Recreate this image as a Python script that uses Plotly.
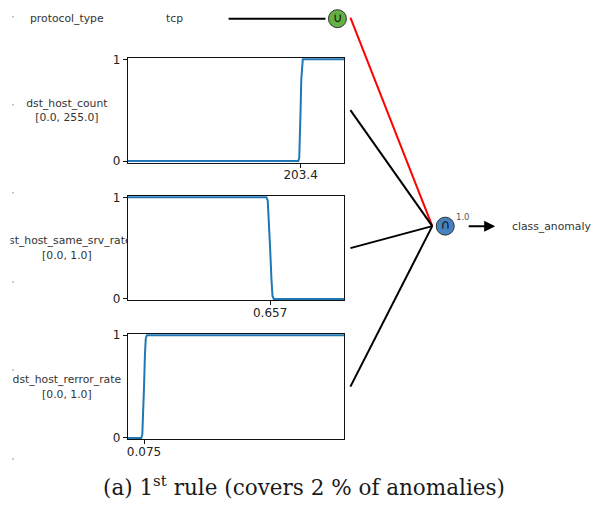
import plotly.graph_objects as go

W, H = 591, 510

# ---------------- data ----------------
cat_feature = "protocol_type"
cat_value = "tcp"
features = ["dst_host_count", "dst_host_same_srv_rate", "dst_host_rerror_rate"]
feature_ranges = [[0.0, 255.0], [0.0, 1.0], [0.0, 1.0]]
thresholds = [203.4, 0.657, 0.075]
threshold_labels = ["203.4", "0.657", "0.075"]

curve1_x = [0.0, 200.8, 201.8, 202.6, 203.4, 204.2, 205.0, 206.0, 255.0]
curve1_y = [0.0, 0.0, 0.03, 0.2, 0.5, 0.8, 0.97, 1.0, 1.0]
curve2_x = [0.0, 0.640, 0.646, 0.651, 0.657, 0.663, 0.668, 0.674, 1.0]
curve2_y = [1.0, 1.0, 0.97, 0.8, 0.5, 0.2, 0.03, 0.0, 0.0]
curve3_x = [0.0, 0.062, 0.067, 0.071, 0.075, 0.079, 0.083, 0.088, 1.0]
curve3_y = [0.0, 0.0, 0.03, 0.2, 0.5, 0.8, 0.97, 1.0, 1.0]
curves = [(curve1_x, curve1_y), (curve2_x, curve2_y), (curve3_x, curve3_y)]

ytick_vals = [0, 1]
ytick_text = ["0", "1"]
output_label = "class_anomaly"
output_weight = "1.0"
caption = "(a) 1<sup>st</sup> rule (covers 2 % of anomalies)"

# ---------------- layout constants (pixels) ----------------
PX_L, PX_R = 127, 344
panel_tops = [54, 195, 336]
panel_bots = [161, 302, 444]
LBL_L, LBL_R = 9.5, 127
LBL_CX = 66
OR_NODE = (337, 14)
AND_NODE = (445, 226)
EDGE_X0 = 350
JOIN = (432, 226)

def fx(px):
    return px / W

def fy(py):
    return 1 - py / H

fig = go.Figure()
layout = dict(
    width=W, height=H, margin=dict(l=0, r=0, t=0, b=0),
    paper_bgcolor="white", plot_bgcolor="rgba(0,0,0,0)",
    showlegend=False,
    font=dict(family="DejaVu Sans", color="#222"),
)

# panels
for i in range(3):
    n = i + 1
    xs = "" if n == 1 else str(n)
    cx, cy = curves[i]
    fig.add_trace(go.Scatter(
        x=cx, y=cy, mode="lines",
        line=dict(color="#1f77b4", width=2),
        xaxis="x" + xs, yaxis="y" + xs, hoverinfo="skip"))
    layout["xaxis" + xs] = dict(
        domain=[fx(PX_L), fx(PX_R)], range=feature_ranges[i],
        anchor="y" + xs, showgrid=False, zeroline=False,
        showline=True, mirror=True, linecolor="#111", linewidth=1,
        ticks="outside", ticklen=4, tickcolor="#111", tickwidth=1,
        ticklabelstandoff=-3,
        tickvals=[thresholds[i]], ticktext=[threshold_labels[i]],
        tickfont=dict(size=12, color="#222"))
    layout["yaxis" + xs] = dict(
        domain=[fy(panel_bots[i]), fy(panel_tops[i])], range=[-0.015, 1.015],
        anchor="x" + xs, showgrid=False, zeroline=False,
        showline=True, mirror=True, linecolor="#111", linewidth=1,
        ticks="outside", ticklen=4, tickcolor="#111", tickwidth=1,
        tickvals=ytick_vals, ticktext=ytick_text,
        tickfont=dict(size=12, color="#222"))

# clipped label subplots
for i in range(3):
    n = i + 4
    top, bot = panel_tops[i], panel_bots[i]
    mid = (top + bot) / 2
    lo, hi = feature_ranges[i]
    fig.add_trace(go.Scatter(
        x=[LBL_CX - LBL_L, LBL_CX - LBL_L],
        y=[mid - 6.5, mid + 8.5],
        text=[features[i], "[%.1f, %.1f]" % (lo, hi)],
        mode="text", textposition="middle center",
        textfont=dict(size=10.8, color="#333", family="DejaVu Sans"),
        cliponaxis=True, xaxis="x%d" % n, yaxis="y%d" % n, hoverinfo="skip"))
    layout["xaxis%d" % n] = dict(domain=[fx(LBL_L), fx(LBL_R)], range=[0, LBL_R - LBL_L],
                                 visible=False, anchor="y%d" % n, fixedrange=True)
    layout["yaxis%d" % n] = dict(domain=[fy(bot), fy(top)], range=[bot, top],
                                 visible=False, anchor="x%d" % n, fixedrange=True)

# overlay for the network diagram
layout["xaxis7"] = dict(domain=[0, 1], range=[0, W], visible=False, anchor="y7")
layout["yaxis7"] = dict(domain=[0, 1], range=[H, 0], visible=False, anchor="x7")

shapes = []
# tcp -> OR node
shapes.append(dict(type="line", xref="x7", yref="y7", x0=228, y0=OR_NODE[1], x1=OR_NODE[0] - 12, y1=OR_NODE[1],
                   line=dict(color="black", width=2)))
# OR -> AND (red)
shapes.append(dict(type="line", xref="x7", yref="y7", x0=EDGE_X0, y0=OR_NODE[1] - 1, x1=JOIN[0], y1=JOIN[1],
                   line=dict(color="red", width=2)))
for i in range(3):
    mid = (panel_tops[i] + panel_bots[i]) / 2
    shapes.append(dict(type="line", xref="x7", yref="y7", x0=EDGE_X0, y0=mid, x1=JOIN[0], y1=JOIN[1],
                       line=dict(color="black", width=2)))
layout["shapes"] = shapes

# tiny dots on the left edge
fig.add_trace(go.Scatter(x=[12] * 6, y=[12, 102, 192, 283, 373, 464], mode="markers",
                         marker=dict(size=2, color="#bbbbbb"), xaxis="x7", yaxis="y7", hoverinfo="skip"))

# nodes
fig.add_trace(go.Scatter(x=[OR_NODE[0]], y=[OR_NODE[1]], mode="markers+text", text=["∪"],
                         textposition="middle center", textfont=dict(size=13, color="#111"),
                         marker=dict(size=18, color="#65b043", line=dict(color="#333", width=1)),
                         xaxis="x7", yaxis="y7", hoverinfo="skip"))
fig.add_trace(go.Scatter(x=[AND_NODE[0]], y=[AND_NODE[1]], mode="markers+text", text=["∩"],
                         textposition="middle center", textfont=dict(size=13, color="#111"),
                         marker=dict(size=18, color="#4682c0", line=dict(color="#333", width=1)),
                         xaxis="x7", yaxis="y7", hoverinfo="skip"))

def txt(x, y, s, size, color, xanchor="center", family="DejaVu Sans"):
    return dict(x=fx(x), y=fy(y), xref="paper", yref="paper", text=s, showarrow=False,
                xanchor=xanchor, yanchor="middle",
                font=dict(size=size, color=color, family=family))

annotations = [
    txt(66, 14, cat_feature, 10.8, "#333"),
    txt(174, 14, cat_value, 10.8, "#333"),
    txt(454, 217, output_weight, 8.5, "#555", xanchor="left"),
    dict(x=495, y=AND_NODE[1], ax=467, ay=AND_NODE[1], xref="x7", yref="y7", axref="x7", ayref="y7",
         text="", showarrow=True, arrowhead=2, arrowsize=1.1, arrowwidth=2, arrowcolor="black", standoff=0),
    txt(510, AND_NODE[1], output_label, 10.8, "#333", xanchor="left"),
    txt(304, 492, caption, 21.5, "#1a1a1a", family="DejaVu Serif"),
]
layout["annotations"] = annotations

fig.update_layout(**layout)
fig.write_html("out.html")
